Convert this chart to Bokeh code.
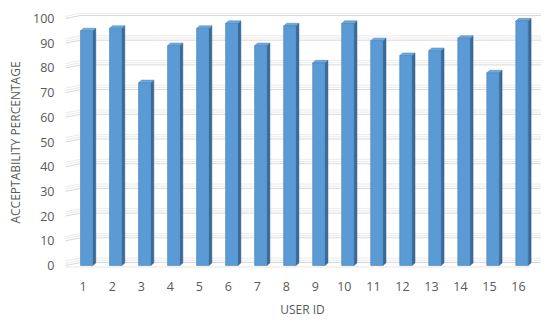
from bokeh.plotting import figure
from bokeh.models import Range1d, FixedTicker, ColumnDataSource
from bokeh.embed import file_html
from bokeh.resources import INLINE

# ---- data ----
user_ids = [1, 2, 3, 4, 5, 6, 7, 8, 9, 10, 11, 12, 13, 14, 15, 16]
acceptability = [95, 96, 74, 89, 96, 98, 89, 97, 82, 98, 91, 85, 87, 92, 78, 99]
y_ticks = [0, 10, 20, 30, 40, 50, 60, 70, 80, 90, 100]

# ---- geometry (pixels -> data) ----
FRAME_W = 480.0
FRAME_H = 260.0
X0 = 0.287
X1 = X0 + FRAME_W / 29.02
Y0 = -7 / 2.47
Y1 = Y0 + FRAME_H / 2.47
ux = (X1 - X0) / FRAME_W   # data units per px (x)
uy = (Y1 - Y0) / FRAME_H   # data units per px (y)

bar_off = 3.45 * ux
bar_w = 12.3 * ux
dx = 3.0 * ux
dy = 2.6 * uy

p = figure(width=544, height=320, output_backend="svg", toolbar_location=None,
           x_range=Range1d(X0, X1), y_range=Range1d(Y0, Y1),
           min_border_left=62, min_border_right=2, min_border_top=12, min_border_bottom=48)
p.outline_line_color = None
p.background_fill_color = "white"
p.border_fill_color = "white"
p.xgrid.visible = False
p.ygrid.visible = False

# ---- walls / gridlines ----
wall_front_x = X0 + 3 * ux
wall_back_x = X0 + 18 * ux
wall_right_x = X1 - 1.5 * ux
wall_dy = 3.0 * uy
gx0, gy0, gx1, gy1, gc = [], [], [], [], []
for t in y_ticks:
    for k, off in enumerate([0.0, 2.2 * uy, 4.4 * uy]):
        col = "#D9D9D9" if k == 0 else "#EBEBEB"
        yy = t + wall_dy + off
        if yy > Y1 - 0.3:
            continue
        gx0.append(wall_back_x); gy0.append(yy); gx1.append(wall_right_x); gy1.append(yy); gc.append(col)
        gx0.append(wall_front_x); gy0.append(t + off); gx1.append(wall_back_x); gy1.append(yy); gc.append(col)
p.segment(x0=gx0, y0=gy0, x1=gx1, y1=gy1, line_color=gc, line_width=1)

# floor edge
p.segment(x0=[wall_front_x], y0=[-0.6], x1=[wall_right_x - 12 * ux], y1=[-0.6],
          line_color="#E6E6E6", line_width=1)

# ---- bars (3D) ----
lefts = [u + bar_off - bar_w / 2 for u in user_ids]
rights = [u + bar_off + bar_w / 2 for u in user_ids]

side_xs = [[r, r + dx, r + dx, r] for r in rights]
side_ys = [[0, dy, v + dy, v] for v in acceptability]
top_xs = [[l, l + dx, r + dx, r] for l, r in zip(lefts, rights)]
top_ys = [[v, v + dy, v + dy, v] for v in acceptability]

p.patches(side_xs, side_ys, fill_color="#3A6A99", line_color="#365F8A", line_width=0.5)
p.patches(top_xs, top_ys, fill_color="#6EA9DD", line_color="#4F86BA", line_width=0.5)
src = ColumnDataSource(dict(x=[u + bar_off for u in user_ids], top=acceptability))
p.vbar(x="x", top="top", bottom=0, width=bar_w, source=src,
       fill_color="#5B9BD5", line_color="#4A83B8", line_width=0.6)

# ---- axes ----
font = "Open Sans"
p.yaxis.ticker = FixedTicker(ticks=y_ticks)
p.xaxis.ticker = FixedTicker(ticks=user_ids)
for ax in (p.xaxis[0], p.yaxis[0]):
    ax.axis_line_color = None
    ax.major_tick_line_color = None
    ax.minor_tick_line_color = None
    ax.major_tick_in = 0
    ax.major_tick_out = 0
    ax.major_label_text_font = font
    ax.major_label_text_font_size = "12.5px"
    ax.major_label_text_color = "#595959"
    ax.axis_label_text_font = font
    ax.axis_label_text_font_size = "12px"
    ax.axis_label_text_font_style = "normal"
    ax.axis_label_text_color = "#595959"

p.yaxis.axis_label = "ACCEPTABILITY PERCENTAGE"
p.xaxis.axis_label = "USER ID"
p.yaxis.major_label_standoff = 8
p.xaxis.major_label_standoff = 9
p.yaxis.axis_label_standoff = 6
p.xaxis.axis_label_standoff = 7

open("out.html", "w").write(file_html(p, INLINE))
